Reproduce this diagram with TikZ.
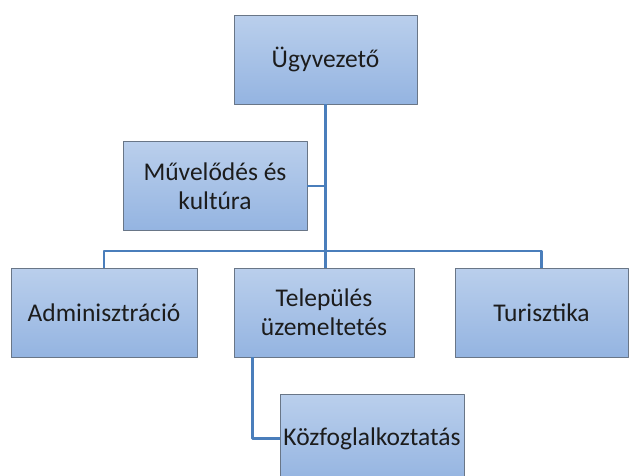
\documentclass[tikz,border=0pt]{standalone}
\usepackage{fontspec}
\setmainfont{Carlito}
\definecolor{boxtop}{RGB}{186,207,236}
\definecolor{boxbot}{RGB}{148,180,225}
\definecolor{boxline}{RGB}{105,118,135}
\definecolor{wire}{RGB}{74,126,187}
\definecolor{ink}{RGB}{28,28,28}
\tikzset{
	unit/.style={draw=boxline,line width=0.8pt,top color=boxtop,bottom color=boxbot,
		minimum height=89,inner sep=1pt,align=center,text=ink,
		font=\fontsize{25.5}{29}\selectfont},
	link/.style={draw=wire,line width=2.4pt}
}
\begin{document}
\begin{tikzpicture}[x=1pt,y=-1pt,line join=round]
	\useasboundingbox (0,0) rectangle (630,475);
	\node[unit,minimum width=183] (ugy) at (325.5,59.5) {Ügyvezető};
	\node[unit,minimum width=184] (muv) at (215,186) {Művelődés és\\kultúra};
	\node[unit,minimum width=186] (adm) at (104,312.5) {Adminisztráció};
	\node[unit,minimum width=180] (tel) at (324,312.5) {Település\\üzemeltetés};
	\node[unit,minimum width=173] (tur) at (541.5,312.5) {Turisztika};
	\node[unit,minimum width=184] (koz) at (372,438.5) {Közfoglalkoztatás};
	\path (ugy.south |- 0,251) coordinate (bus);
	% connectors
	\draw[link] (ugy.south) -- (bus) -- (bus |- tel.north);
	\draw[link] (muv.east) -- (muv.east -| ugy.south);
	\draw[link] (adm.north) |- (bus) -| (tur.north);
	\draw[link] (tel.south west) ++(19,0) |- (koz.west);
\end{tikzpicture}
\end{document}
